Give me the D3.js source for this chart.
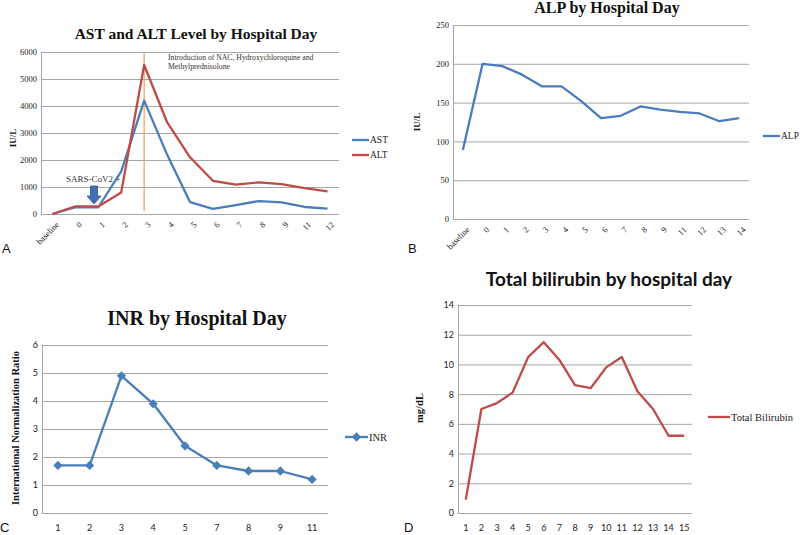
<!DOCTYPE html>
<html>
<head>
<meta charset="utf-8">
<script src="https://cdn.jsdelivr.net/npm/d3@7"></script>
<style>
  body { margin: 0; background: #fff; }
  svg { display: block; }
</style>
</head>
<body>
<svg width="800" height="535"></svg>
<script>
// Panel A data
const astDays = ["baseline", "0", "1", "2", "3", "4", "5", "6", "7", "8", "9", "11", "12"];
const astValues = [0, 250, 250, 1580, 4200, 2200, 440, 190, 330, 480, 430, 260, 200];
const altValues = [0, 280, 280, 800, 5520, 3400, 2100, 1230, 1090, 1170, 1110, 960, 840];
const astTicks = [0, 1000, 2000, 3000, 4000, 5000, 6000];

// Panel B data
const alpDays = ["baseline", "0", "1", "2", "3", "4", "5", "6", "7", "8", "9", "11", "12", "13", "14"];
const alpValues = [89, 200, 197, 186, 171, 171, 152, 130, 133, 145, 141, 138, 136, 126, 130];
const alpTicks = [0, 50, 100, 150, 200, 250];

// Panel C data
const inrDays = ["1", "2", "3", "4", "5", "7", "8", "9", "11"];
const inrValues = [1.7, 1.7, 4.9, 3.9, 2.4, 1.7, 1.5, 1.5, 1.2];
const inrTicks = [0, 1, 2, 3, 4, 5, 6];

// Panel D data
const biliDays = ["1", "2", "3", "4", "5", "6", "7", "8", "9", "10", "11", "12", "13", "14", "15"];
const biliValues = [0.9, 7.0, 7.4, 8.1, 10.5, 11.5, 10.3, 8.6, 8.4, 9.8, 10.5, 8.2, 7.0, 5.2, 5.2];
const biliTicks = [0, 2, 4, 6, 8, 10, 12, 14];

const blue = "#4a7ebb", red = "#be4b48", grid = "#a6a6a6";
const serif = "'Liberation Serif', 'Times New Roman', serif";
const sans = "Lato, 'Liberation Sans', sans-serif";

const svg = d3.select("svg");

function panel(cfg) {
    const g = svg.append("g");
    const x = d3.scalePoint().domain(cfg.cats).range([cfg.left, cfg.right]).padding(0.5);
    const y = d3.scaleLinear().domain([0, cfg.ticks[cfg.ticks.length - 1]]).range([cfg.bottom, cfg.top]);

    // gridlines + y labels
    const ya = g.append("g")
        .attr("transform", `translate(${cfg.left},0)`)
        .call(d3.axisLeft(y).tickValues(cfg.ticks).tickFormat(d3.format("d"))
            .tickSize(-(cfg.right - cfg.left)).tickPadding(4));
    ya.select(".domain").attr("stroke", grid);
    ya.selectAll(".tick line").attr("stroke", grid).attr("stroke-width", 1);
    ya.selectAll("text")
        .attr("font-family", cfg.tickFont)
        .attr("font-size", cfg.tickSize)
        .attr("fill", "#222");

    // x labels
    const xl = g.append("g");
    cfg.cats.forEach(c => {
        if (cfg.rotate) {
            xl.append("text")
                .attr("transform", `translate(${x(c) + 3},${cfg.bottom + 7}) rotate(-45)`)
                .attr("text-anchor", "end")
                .attr("dy", "0.7em")
                .attr("font-family", cfg.tickFont)
                .attr("font-size", cfg.tickSize)
                .attr("fill", "#222")
                .text(c);
        } else {
            xl.append("text")
                .attr("x", x(c))
                .attr("y", cfg.bottom + 18)
                .attr("text-anchor", "middle")
                .attr("font-family", cfg.tickFont)
                .attr("font-size", cfg.tickSize)
                .attr("fill", "#222")
                .text(c);
        }
    });

    if (cfg.extra) cfg.extra(g, x, y);

    // lines
    cfg.series.forEach(s => {
        const line = d3.line().x((d, i) => x(cfg.cats[i])).y(d => y(d));
        g.append("path")
            .datum(s.values)
            .attr("d", line)
            .attr("fill", "none")
            .attr("stroke", s.color)
            .attr("stroke-width", 2.3)
            .attr("stroke-linejoin", "round");
        if (s.marker) {
            g.selectAll(null)
                .data(s.values)
                .enter().append("path")
                .attr("d", d3.symbol(d3.symbolDiamond2, 55))
                .attr("transform", (d, i) => `translate(${x(cfg.cats[i])},${y(d)})`)
                .attr("fill", s.color);
        }
    });

    // legend
    cfg.series.forEach((s, i) => {
        const ly = cfg.legendY + i * cfg.legendGap;
        g.append("line")
            .attr("x1", cfg.legendX).attr("x2", cfg.legendX + cfg.legendLen)
            .attr("y1", ly).attr("y2", ly)
            .attr("stroke", s.color).attr("stroke-width", 2.3);
        if (s.marker) {
            g.append("path")
                .attr("d", d3.symbol(d3.symbolDiamond2, 55))
                .attr("transform", `translate(${cfg.legendX + cfg.legendLen / 2},${ly})`)
                .attr("fill", s.color);
        }
        g.append("text")
            .attr("x", cfg.legendX + cfg.legendLen + 1)
            .attr("y", ly)
            .attr("dy", "0.35em")
            .attr("font-family", serif)
            .attr("font-size", cfg.legendSize)
            .attr("fill", "#222")
            .text(s.name);
    });

    // title
    g.append("text")
        .attr("x", cfg.titleX).attr("y", cfg.titleY)
        .attr("text-anchor", "middle")
        .style("font-family", cfg.titleFont)
        .attr("font-weight", "bold")
        .attr("font-size", cfg.titleSize)
        .attr("fill", "#111")
        .text(cfg.title);

    // y axis title
    g.append("text")
        .attr("transform", `translate(${cfg.ylabX},${cfg.ylabY}) rotate(-90)`)
        .attr("text-anchor", "middle")
        .attr("font-family", serif)
        .attr("font-weight", "bold")
        .attr("font-size", cfg.ylabSize)
        .attr("fill", "#111")
        .text(cfg.ylab);

    // panel letter
    g.append("text")
        .attr("x", cfg.letterX).attr("y", cfg.letterY)
        .attr("font-family", "'Liberation Sans', Arial, sans-serif")
        .attr("font-size", 13)
        .attr("fill", "#111")
        .text(cfg.letter);
}

panel({
    cats: astDays, ticks: astTicks,
    left: 41, right: 339, top: 52, bottom: 214,
    rotate: true, tickFont: serif, tickSize: 8.5,
    series: [{ name: "AST", values: astValues, color: blue }, { name: "ALT", values: altValues, color: red }],
    legendX: 352, legendY: 140, legendGap: 15, legendLen: 17, legendSize: 9.5,
    title: "AST and ALT Level by Hospital Day", titleX: 196, titleY: 39, titleFont: serif, titleSize: 15.5,
    ylab: "IU/L", ylabX: 16, ylabY: 138, ylabSize: 9,
    letter: "A", letterX: 2, letterY: 253,
    extra: (g, x, y) => {
        g.append("line")
            .attr("x1", x("3")).attr("x2", x("3"))
            .attr("y1", y(5950)).attr("y2", y(100))
            .attr("stroke", "#f4a460").attr("stroke-width", 1.3);
        const ann = g.append("text")
            .attr("font-family", serif).attr("font-size", 7.7).attr("fill", "#333");
        ann.append("tspan").attr("x", 168).attr("y", 60).text("Introduction of NAC, Hydroxychloroquine and");
        ann.append("tspan").attr("x", 168).attr("y", 69).text("Methylprednisolone");
        g.append("text")
            .attr("x", 66).attr("y", 182)
            .attr("font-family", serif).attr("font-size", 9).attr("fill", "#333")
            .text("SARS-CoV2 +");
        const ax = 94;
        g.append("path")
            .attr("d", `M${ax - 3.5},186 h7 v10 h3.5 l-7,8 l-7,-8 h3.5 z`)
            .attr("fill", "#3d6fb6").attr("stroke", "#2c5592").attr("stroke-width", 0.8);
    }
});

panel({
    cats: alpDays, ticks: alpTicks,
    left: 453, right: 749, top: 25, bottom: 219,
    rotate: true, tickFont: serif, tickSize: 8.5,
    series: [{ name: "ALP", values: alpValues, color: blue }],
    legendX: 763, legendY: 136, legendGap: 15, legendLen: 17, legendSize: 9.5,
    title: "ALP by Hospital Day", titleX: 607, titleY: 13, titleFont: serif, titleSize: 16,
    ylab: "IU/L", ylabX: 420, ylabY: 122, ylabSize: 9,
    letter: "B", letterX: 408, letterY: 253
});

panel({
    cats: inrDays, ticks: inrTicks,
    left: 42, right: 328, top: 345, bottom: 513,
    rotate: false, tickFont: sans, tickSize: 9,
    series: [{ name: "INR", values: inrValues, color: blue, marker: true }],
    legendX: 345, legendY: 437, legendGap: 15, legendLen: 23, legendSize: 10.5,
    title: "INR by Hospital Day", titleX: 197, titleY: 325, titleFont: serif, titleSize: 20,
    ylab: "International Normalization Ratio", ylabX: 19, ylabY: 428, ylabSize: 10.5,
    letter: "C", letterX: 0, letterY: 532
});

panel({
    cats: biliDays, ticks: biliTicks,
    left: 458, right: 692, top: 305, bottom: 513,
    rotate: false, tickFont: sans, tickSize: 9,
    series: [{ name: "Total Bilirubin", values: biliValues, color: red }],
    legendX: 708, legendY: 417, legendGap: 15, legendLen: 22, legendSize: 10.5,
    title: "Total bilirubin by hospital day", titleX: 609, titleY: 286, titleFont: sans, titleSize: 19,
    ylab: "mg/dL", ylabX: 423, ylabY: 408, ylabSize: 10.5,
    letter: "D", letterX: 404, letterY: 532
});
</script>
</body>
</html>
